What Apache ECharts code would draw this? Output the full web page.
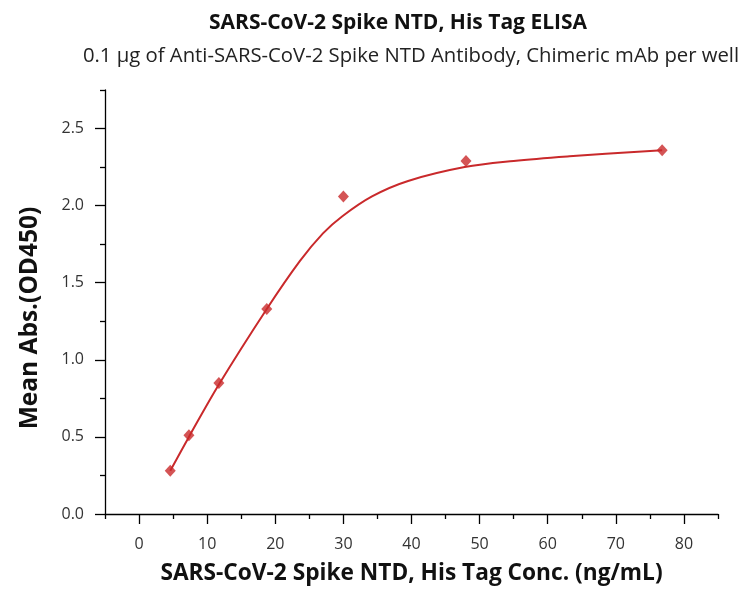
<!DOCTYPE html>
<html>
<head>
<meta charset="utf-8">
<title>SARS-CoV-2 Spike NTD ELISA</title>
<script src="https://cdn.jsdelivr.net/npm/echarts@6/dist/echarts.min.js"></script>
<style>
  html, body { margin: 0; padding: 0; background: #fff; }
  #chart { width: 738px; height: 594px; }
</style>
</head>
<body>
<div id="chart"></div>
<script>
// measured points
var conc = [4.58, 7.32, 11.72, 18.75, 30, 48, 76.8];
var od = [0.28, 0.51, 0.85, 1.33, 2.06, 2.29, 2.36];
// fitted curve
var fitConc = [4.58, 7.32, 11.72, 18.75, 23.6, 27, 29.8, 34.2, 39.5, 47.8, 55, 63.2, 76.8];
var fitOd = [0.28, 0.50, 0.84, 1.33, 1.64, 1.82, 1.93, 2.06, 2.16, 2.25, 2.29, 2.32, 2.36];
// ticks
var xMajor = [0, 10, 20, 30, 40, 50, 60, 70, 80];
var xMinor = [-5, 5, 15, 25, 35, 45, 55, 65, 75, 85];
var yMajor = [0, 0.5, 1.0, 1.5, 2.0, 2.5];
var yMinor = [0.25, 0.75, 1.25, 1.75, 2.25, 2.75];

var red = '#c9292b';
var font = 'Open Sans';

function pairs(xs, ys) {
  var out = [];
  for (var i = 0; i < xs.length; i++) out.push([xs[i], ys[i]]);
  return out;
}

var tickStyle = { color: '#000', width: 1.3 };

var chart = echarts.init(document.getElementById('chart'));
chart.setOption({
  animation: false,
  title: [{
    text: 'SARS-CoV-2 Spike NTD, His Tag ELISA',
    left: 393, top: 8, textAlign: 'center',
    textStyle: { fontFamily: font, fontWeight: 'bold', fontSize: 21, color: '#111' }
  }, {
    text: '0.1 µg of Anti-SARS-CoV-2 Spike NTD Antibody, Chimeric mAb per well',
    left: 406, top: 41, textAlign: 'center',
    textStyle: { fontFamily: font, fontWeight: 'normal', fontSize: 20.3, color: '#222' }
  }],
  grid: { left: 105, right: 20, top: 90, bottom: 80 },
  xAxis: [{
    type: 'value', min: -5, max: 85,
    name: 'SARS-CoV-2 Spike NTD, His Tag Conc. (ng/mL)',
    nameLocation: 'middle', nameGap: 48,
    nameTextStyle: { fontFamily: font, fontWeight: 'bold', fontSize: 22.7, color: '#111' },
    axisLine: { show: true, onZero: false, lineStyle: tickStyle },
    axisTick: { show: true, length: 10, customValues: xMajor, lineStyle: tickStyle },
    axisLabel: { customValues: xMajor, margin: 22, fontFamily: font, fontSize: 16, color: '#333' },
    splitLine: { show: false }
  }, {
    type: 'value', min: -5, max: 85, position: 'bottom',
    axisLine: { show: false, onZero: false },
    axisTick: { show: true, length: 5, customValues: xMinor, lineStyle: tickStyle },
    axisLabel: { show: false },
    splitLine: { show: false }
  }],
  yAxis: [{
    type: 'value', min: 0, max: 2.75,
    name: 'Mean Abs.(OD450)',
    nameLocation: 'middle', nameGap: 62,
    nameTextStyle: { fontFamily: font, fontWeight: 'bold', fontSize: 24.5, color: '#111', padding: [0, 32, 0, 0] },
    axisLine: { show: true, onZero: false, lineStyle: tickStyle },
    axisTick: { show: true, length: 10, customValues: yMajor, lineStyle: tickStyle },
    axisLabel: {
      customValues: yMajor, margin: 21, fontFamily: font, fontSize: 16, color: '#333',
      formatter: function (v) { return v.toFixed(1); }
    },
    splitLine: { show: false }
  }, {
    type: 'value', min: 0, max: 2.75, position: 'left', offset: 0,
    axisLine: { show: false, onZero: false },
    axisTick: { show: true, length: 5, customValues: yMinor, lineStyle: tickStyle },
    axisLabel: { show: false },
    splitLine: { show: false }
  }],
  series: [{
    name: 'fit',
    type: 'line',
    data: pairs(fitConc, fitOd),
    smooth: 0.35,
    showSymbol: false,
    lineStyle: { color: red, width: 2 },
    z: 2
  }, {
    name: 'data',
    type: 'scatter',
    data: pairs(conc, od),
    symbol: 'diamond',
    symbolSize: [11, 12],
    itemStyle: { color: red },
    z: 3
  }]
});
</script>
</body>
</html>
